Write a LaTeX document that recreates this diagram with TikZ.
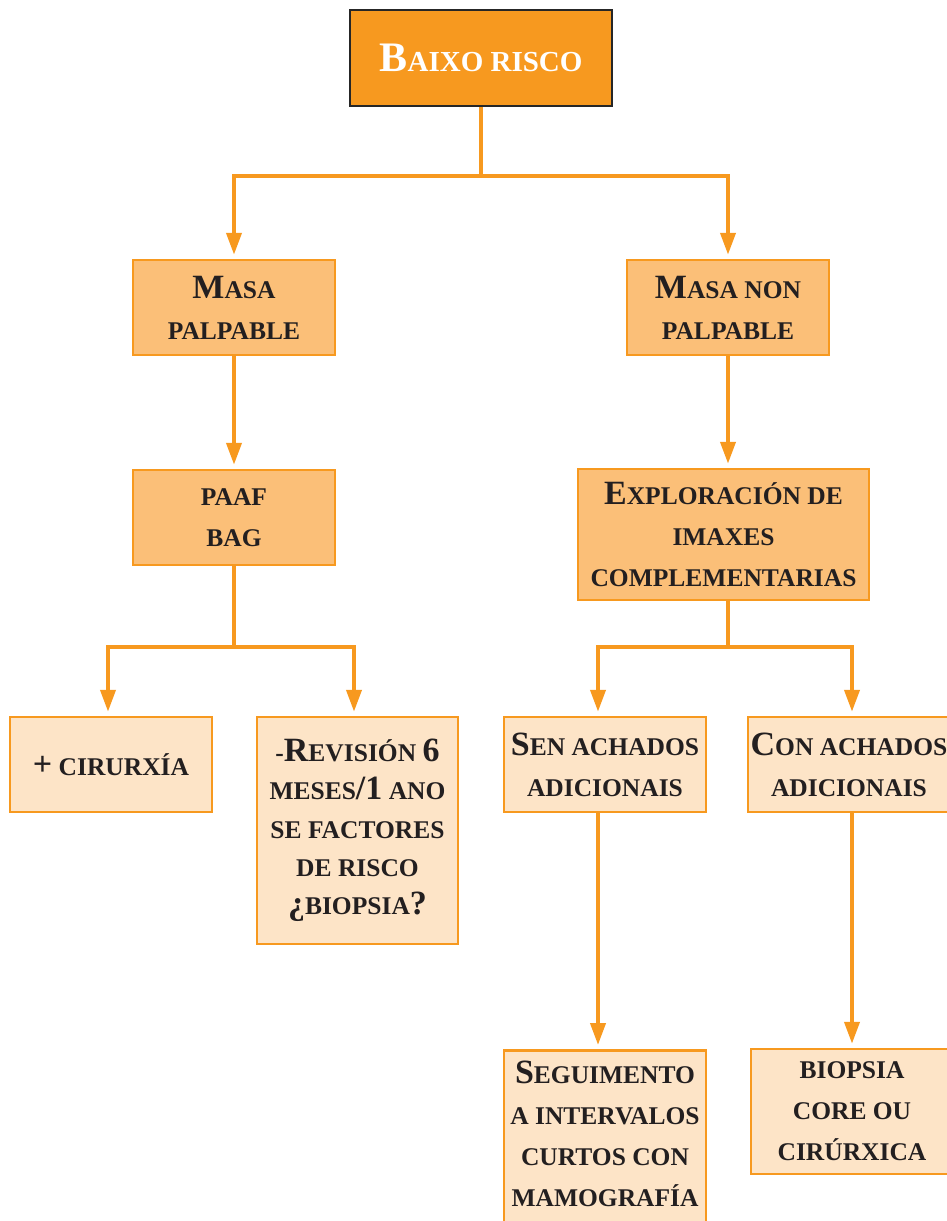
\documentclass[tikz,border=0pt]{standalone}
\usepackage{fontspec}
\setmainfont{Liberation Serif}
\usetikzlibrary{arrows.meta}
\definecolor{dorange}{HTML}{F7991F}
\definecolor{morange}{HTML}{FBBF78}
\definecolor{lorange}{HTML}{FDE4C7}
\definecolor{txt}{HTML}{231F20}
\newcommand\bigc[1]{{\fontsize{34}{34}\selectfont #1}}
\newcommand\hugec[1]{{\fontsize{42}{42}\selectfont #1}}
\begin{document}
\begin{tikzpicture}[x=1pt,y=-1pt,
 box/.style={draw=dorange, line width=2.5pt, text=txt, align=center, inner sep=2pt,
   minimum width=202pt, minimum height=95pt, font=\bfseries\fontsize{25.5}{41}\selectfont},
 mbox/.style={box, fill=morange},
 lbox/.style={box, fill=lorange},
 conn/.style={draw=dorange, line width=4pt},
 arr/.style={conn, -{Triangle[length=22pt,width=15pt]}, shorten >=4pt},
]
\useasboundingbox (0,0) rectangle (946,1221);

\node[draw=black!85, line width=2.5pt, fill=dorange, text=white, minimum width=262pt,
  minimum height=96pt, font=\bfseries\fontsize{29}{34}\selectfont] (top) at (481,58) {\hugec{B}AIXO RISCO};

\node[mbox] (mp) at (234,307.5) {\bigc{M}ASA\\PALPABLE};
\node[mbox] (mnp) at (728,307.5) {\bigc{M}ASA NON\\PALPABLE};
\node[mbox] (paaf) at (234,517.5) {PAAF\\BAG};
\node[mbox, minimum width=291pt, minimum height=131pt] (expl) at (723.5,534.5)
  {\bigc{E}XPLORACIÓN DE\\IMAXES\\COMPLEMENTARIAS};

\node[lbox] (cir) at (111,764.5) {\bigc{+} CIRURXÍA};
\node[lbox, minimum width=201pt, minimum height=227pt, font=\bfseries\fontsize{25.5}{38.3}\selectfont] (rev) at (357.5,830.5)
  {-\bigc{R}EVISIÓN \bigc{6}\\MESES\bigc{/1} ANO\\SE FACTORES\\DE RISCO\\\bigc{¿}BIOPSIA\bigc{?}};
\node[lbox] (sen) at (605,764.5) {\bigc{S}EN ACHADOS\\ADICIONAIS};
\node[lbox] (con) at (849,764.5) {\bigc{C}ON ACHADOS\\ADICIONAIS};

\node[lbox, anchor=north, minimum height=0pt, inner ysep=11pt, text depth=25pt] (seg) at (605,1049)
  {\bigc{S}EGUIMENTO\\A INTERVALOS\\CURTOS CON\\MAMOGRAFÍA};
\node[lbox, minimum height=125pt] (bio) at (852,1111.5) {BIOPSIA\\CORE OU\\CIRÚRXICA};

\coordinate (j1) at (481,176);
\draw[conn] (top.south) -- (j1);
\draw[arr] (j1) -| (mp.north);
\draw[arr] (j1) -| (mnp.north);
\draw[arr] (mp.south) -- (paaf.north);
\draw[arr] (mnp.south) -- (mnp.south |- expl.north);

\coordinate (j2) at (234,647);
\draw[conn] (paaf.south) -- (j2);
\draw[arr] (j2) -| ([xshift=-3pt]cir.north);
\draw[arr] (j2) -| ([xshift=-3.5pt]rev.north);

\coordinate (j3) at (728,647);
\draw[conn] (expl.south -| j3) -- (j3);
\draw[arr] (j3) -| ([xshift=3pt]con.north);
\draw[arr] (j3) -| ([xshift=-7pt]sen.north);
\draw[arr] ([xshift=-7pt]sen.south) -- ([xshift=-7pt]seg.north);
\draw[arr] ([xshift=3pt]con.south) -- (bio.north);
\end{tikzpicture}
\end{document}
